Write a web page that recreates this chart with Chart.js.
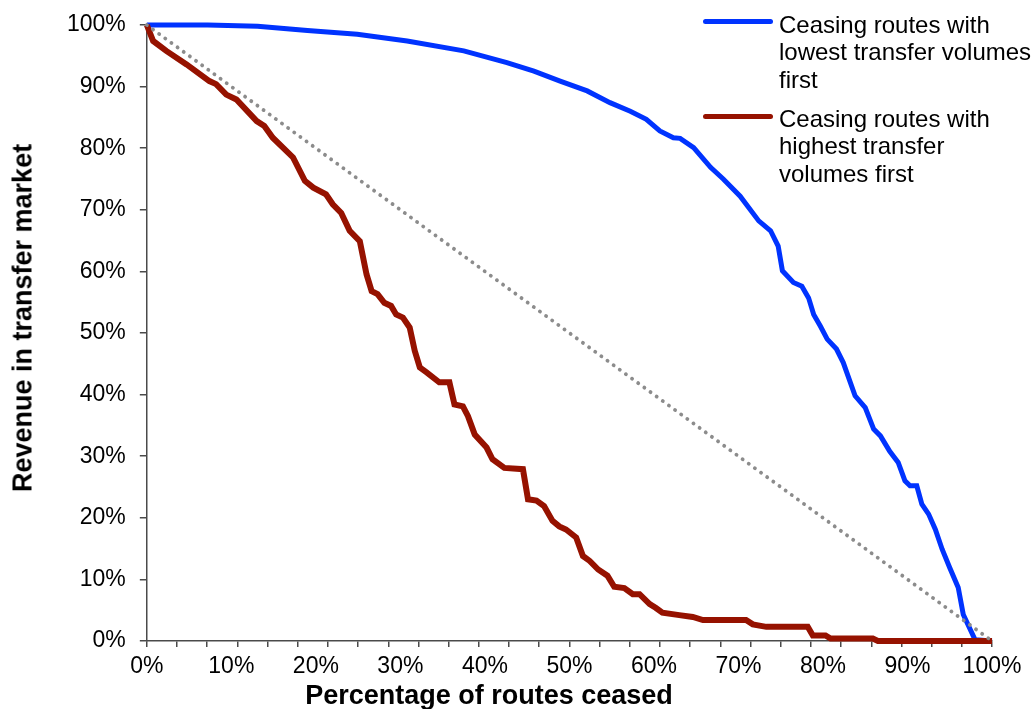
<!DOCTYPE html>
<html>
<head>
<meta charset="utf-8">
<script src="https://cdn.jsdelivr.net/npm/chart.js@4.4.0/dist/chart.umd.min.js"></script>
<style>
  body { margin: 0; background: #fff; }
  #wrap { position: relative; width: 1033px; height: 709px; font-family: "Liberation Sans", Arial, sans-serif; }
  #chart { position: absolute; left: 0; top: 0; }
  .legend-item { position: absolute; left: 703px; }
  .legend-line { position: absolute; left: 0; width: 70px; height: 5px; border-radius: 3px; }
  .legend-text { position: absolute; left: 76px; font-size: 24px; line-height: 27.3px; white-space: nowrap; color: #000; }
  #xTitle { position: absolute; left: 489px; top: 695px; transform: translate(-50%, -50%); font-weight: bold; font-size: 27px; white-space: nowrap; }
  #yTitle { position: absolute; left: 23px; top: 318px; transform: translate(-50%, -50%) rotate(-90deg); font-weight: bold; font-size: 27px; white-space: nowrap; }
</style>
</head>
<body>
<div id="wrap">
  <canvas id="chart" width="1033" height="709"></canvas>
  <div class="legend-item" style="top:0">
    <div class="legend-line" style="top:19px;background:#0033ff"></div>
    <div class="legend-text" style="top:11px">Ceasing routes with<br>lowest transfer volumes<br>first</div>
  </div>
  <div class="legend-item" style="top:0">
    <div class="legend-line" style="top:114px;background:#961200"></div>
    <div class="legend-text" style="top:105px">Ceasing routes with<br>highest transfer<br>volumes first</div>
  </div>
  <div id="xTitle">Percentage of routes ceased</div>
  <div id="yTitle">Revenue in transfer market</div>
</div>
<script>
// Courbe bleue : on arrête d'abord les routes avec le moins de transferts
const blueX = [0, 7.2, 13.1, 19.0, 24.9, 30.8, 37.5, 42.6, 45.8, 48.9, 52.1, 54.8, 57.2, 59.1, 60.7, 62.3, 63.1, 64.7, 66.7, 68.2, 70.2, 72.4, 73.8, 74.7, 75.2, 76.5, 77.5, 78.3, 78.9, 79.7, 80.5, 81.6, 82.4, 83.8, 85.0, 86.0, 86.8, 87.9, 88.9, 89.7, 90.3, 91.1, 91.7, 92.5, 93.3, 94.1, 95.0, 96.0, 96.6, 98.0, 100];
const blueY = [100, 100, 99.8, 99.1, 98.5, 97.4, 95.8, 93.9, 92.5, 90.9, 89.3, 87.4, 86.0, 84.7, 82.8, 81.7, 81.6, 80.1, 76.9, 75.0, 72.2, 68.2, 66.6, 64.1, 60.1, 58.2, 57.6, 55.7, 53.0, 51.1, 49.0, 47.4, 45.2, 39.8, 37.9, 34.4, 33.3, 30.8, 29.0, 26.0, 25.2, 25.2, 22.2, 20.6, 18.1, 14.9, 11.9, 8.7, 4.3, 0.2, 0];

// Courbe rouge : on arrête d'abord les routes avec le plus de transferts
const redX = [0, 0.75, 2.3, 4.7, 7.4, 8.2, 9.4, 10.6, 13.0, 13.9, 14.9, 17.3, 18.7, 19.7, 21.2, 22.0, 23.0, 24.0, 25.2, 26.0, 26.6, 27.3, 28.1, 28.9, 29.5, 30.3, 31.1, 31.7, 32.3, 33.1, 34.6, 35.8, 36.4, 37.4, 38.0, 38.8, 40.2, 40.9, 42.3, 44.5, 45.1, 46.1, 47.0, 48.0, 48.8, 49.6, 50.8, 51.6, 52.4, 53.4, 54.5, 55.3, 56.5, 57.5, 58.3, 59.5, 60.2, 61.0, 63.0, 64.6, 65.8, 70.9, 71.7, 73.3, 78.2, 78.8, 80.3, 80.9, 85.9, 86.5, 100];
const redY = [100, 97.4, 95.8, 93.6, 90.9, 90.4, 88.7, 87.9, 84.4, 83.6, 81.7, 78.5, 74.7, 73.6, 72.5, 70.9, 69.5, 66.6, 64.9, 59.5, 56.8, 56.3, 54.9, 54.4, 53.0, 52.5, 50.9, 47.1, 44.4, 43.6, 42.0, 42.0, 38.4, 38.1, 36.5, 33.5, 31.4, 29.5, 28.1, 27.9, 23.0, 22.8, 21.9, 19.5, 18.6, 18.1, 16.8, 13.8, 13.0, 11.6, 10.6, 8.8, 8.6, 7.6, 7.6, 6.0, 5.4, 4.6, 4.2, 3.9, 3.4, 3.4, 2.7, 2.3, 2.3, 0.9, 0.9, 0.4, 0.4, 0, 0];

// Diagonale de référence
const diagX = [0, 100];
const diagY = [100, 0];

const minorTickCount = 28;  // graduations de l'axe X (non alignées sur les libellés)

const toPoints = (xs, ys) => xs.map((x, i) => ({ x: x, y: ys[i] }));

Chart.defaults.font.family = '"Liberation Sans", Arial, sans-serif';
Chart.defaults.color = '#000';

const axisColor = '#4a4a4a';

new Chart(document.getElementById('chart'), {
  type: 'line',
  data: {
    datasets: [
      {
        label: 'Ceasing routes with lowest transfer volumes first',
        data: toPoints(blueX, blueY),
        borderColor: '#0033ff',
        borderWidth: 5,
        pointRadius: 0,
        tension: 0,
        clip: false,
        order: 3,
      },
      {
        label: 'Ceasing routes with highest transfer volumes first',
        data: toPoints(redX, redY),
        borderColor: '#961200',
        borderWidth: 6,
        pointRadius: 0,
        tension: 0,
        clip: false,
        order: 2,
      },
      {
        label: 'diagonal',
        data: toPoints(diagX, diagY),
        borderColor: '#8c8c8c',
        borderWidth: 3.8,
        borderDash: [0.1, 7.5],
        borderCapStyle: 'round',
        pointRadius: 0,
        clip: false,
        order: 1,
      },
    ],
  },
  options: {
    responsive: false,
    animation: false,
    devicePixelRatio: 1,
    layout: { autoPadding: false, padding: { left: 53, right: 41, top: 25, bottom: 31 } },
    plugins: {
      legend: { display: false },
      tooltip: { enabled: false },
    },
    scales: {
      x: {
        type: 'linear',
        min: 0,
        max: 100,
        weight: 0,
        afterBuildTicks: (scale) => {
          const ticks = [];
          for (let i = 0; i <= minorTickCount; i++) ticks.push({ value: i * 100 / minorTickCount });
          scale.ticks = ticks;
        },
        ticks: { display: false },
        grid: { drawOnChartArea: false, tickLength: 6, color: axisColor, lineWidth: 1.5 },
        border: { color: axisColor, width: 1.5 },
      },
      x2: {
        type: 'linear',
        position: 'bottom',
        min: 0,
        max: 100,
        weight: 1,
        ticks: {
          stepSize: 10,
          padding: 0,
          font: { size: 23, lineHeight: 1 },
          callback: (v) => v + '%',
        },
        grid: { display: false },
        border: { display: false },
      },
      y: {
        type: 'linear',
        min: 0,
        max: 100,
        ticks: {
          stepSize: 10,
          padding: 14,
          font: { size: 23, lineHeight: 0.4 },
          callback: (v) => v + '%',
        },
        grid: { drawOnChartArea: false, tickLength: 7, color: axisColor, lineWidth: 1.5 },
        border: { color: axisColor, width: 1.5 },
      },
    },
  },
});
</script>
</body>
</html>
